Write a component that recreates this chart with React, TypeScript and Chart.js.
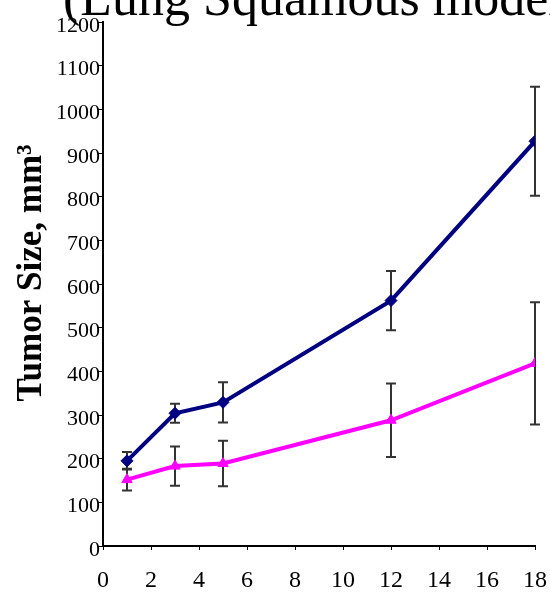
import React, { useEffect, useRef } from "react";
import { Chart, registerables } from "chart.js";

Chart.register(...registerables);

const days = [1, 3, 5, 12, 18];
const vehicleMean = [195, 304, 329, 562, 927];
const vehicleErr = [20, 22, 46, 68, 125];
const treatedMean = [152, 183, 189, 288, 418];
const treatedErr = [25, 45, 52, 84, 140];
const titleText = "(Lung Squamous model)";
const yTitleText = "Tumor Size, mm³";

const SERIF = "'Liberation Serif', 'Times New Roman', serif";

const errorBarPlugin = {
  id: "errorBars",
  beforeDatasetsDraw(chart: any) {
    const ctx = chart.ctx;
    const xs = chart.scales.x;
    const ys = chart.scales.y;
    const sets = [
      { m: vehicleMean, e: vehicleErr },
      { m: treatedMean, e: treatedErr },
    ];
    ctx.save();
    ctx.strokeStyle = "#333333";
    ctx.lineWidth = 2;
    sets.forEach((s) => {
      days.forEach((d, i) => {
        const x = xs.getPixelForValue(d);
        const yt = ys.getPixelForValue(s.m[i] + s.e[i]);
        const yb = ys.getPixelForValue(s.m[i] - s.e[i]);
        ctx.beginPath();
        ctx.moveTo(x, yt);
        ctx.lineTo(x, yb);
        ctx.moveTo(x - 5, yt);
        ctx.lineTo(x + 5, yt);
        ctx.moveTo(x - 5, yb);
        ctx.lineTo(x + 5, yb);
        ctx.stroke();
      });
    });
    ctx.restore();
  },
};

const textPlugin = {
  id: "texts",
  afterDraw(chart: any) {
    const ctx = chart.ctx;
    ctx.save();
    ctx.fillStyle = "#000";
    ctx.font = `52px ${SERIF}`;
    ctx.textAlign = "left";
    ctx.textBaseline = "alphabetic";
    ctx.fillText(titleText, 63, 15);
    ctx.translate(32, 273);
    ctx.rotate(-Math.PI / 2);
    ctx.font = `bold 35px ${SERIF}`;
    ctx.textAlign = "center";
    ctx.textBaseline = "middle";
    ctx.fillText(yTitleText, 0, 0);
    ctx.restore();
  },
};

export default function App() {
  const ref = useRef<HTMLCanvasElement>(null);
  useEffect(() => {
    if (!ref.current) return;
    const chart = new Chart(ref.current, {
      type: "line",
      data: {
        datasets: [
          {
            label: "Vehicle",
            data: days.map((d, i) => ({ x: d, y: vehicleMean[i] })),
            borderColor: "#000080",
            backgroundColor: "#000080",
            borderWidth: 4,
            pointStyle: "rectRot",
            pointRadius: 6,
            pointBorderWidth: 1,
          },
          {
            label: "Treated",
            data: days.map((d, i) => ({ x: d, y: treatedMean[i] })),
            borderColor: "#FF00FF",
            backgroundColor: "#FF00FF",
            borderWidth: 4,
            pointStyle: "triangle",
            pointRadius: 6,
            pointBorderWidth: 1,
          },
        ],
      },
      options: {
        animation: false,
        responsive: false,
        devicePixelRatio: 1,
        layout: { padding: { left: 0, right: 0, top: 22, bottom: 0 } },
        plugins: {
          legend: { display: false },
          tooltip: { enabled: false },
        },
        scales: {
          x: {
            type: "linear",
            min: 0,
            max: 18,
            ticks: {
              stepSize: 2,
              color: "#000",
              font: { family: SERIF, size: 24 },
              padding: 16,
              maxRotation: 0,
              callback: (v: any) => String(v),
            },
            grid: { drawOnChartArea: false, drawTicks: true, tickLength: 4, color: "#000" },
            border: { display: true, color: "#000", width: 2 },
            afterFit: (s: any) => {
              s.height = 46;
              s.paddingRight = 15;
              s.paddingLeft = 0;
            },
          },
          y: {
            type: "linear",
            min: 0,
            max: 1200,
            ticks: {
              stepSize: 100,
              color: "#000",
              font: { family: SERIF, size: 22 },
              padding: -2,
              labelOffset: 4,
              callback: (v: any) => String(v),
            },
            grid: { drawOnChartArea: false, drawTicks: true, tickLength: 5, color: "#000" },
            border: { display: true, color: "#000", width: 2 },
            afterFit: (s: any) => {
              s.width = 103;
            },
          },
        },
      },
      plugins: [errorBarPlugin, textPlugin],
    });
    return () => chart.destroy();
  }, []);
  return (
    <div style={{ position: "fixed", left: 0, top: 0, width: 550, height: 592, background: "#fff" }}>
      <canvas ref={ref} width={550} height={592} />
    </div>
  );
}
